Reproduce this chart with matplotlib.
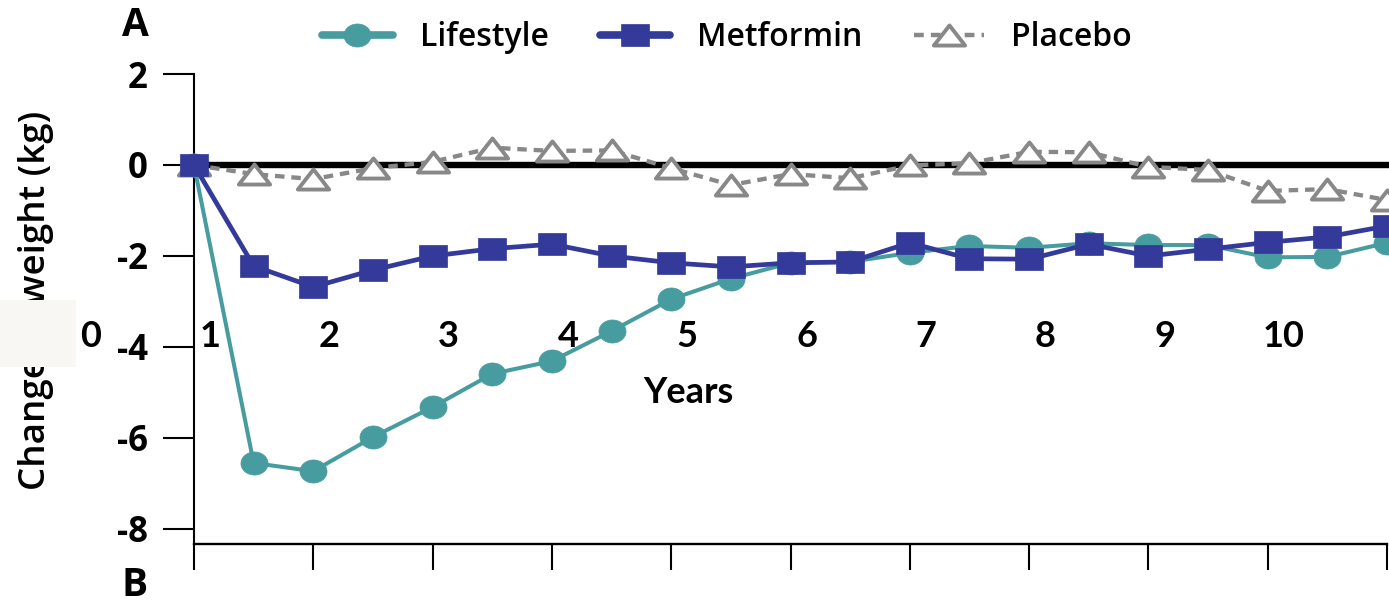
import numpy as np
import matplotlib
matplotlib.use("Agg")
import matplotlib.pyplot as plt
from matplotlib.path import Path
from matplotlib.patches import Rectangle

# Follow-up visits every half year
years = [0, 0.5, 1, 1.5, 2, 2.5, 3, 3.5, 4, 4.5, 5, 5.5, 6, 6.5, 7, 7.5, 8, 8.5, 9, 9.5, 10]

lifestyle = [0, -6.55, -6.73, -5.98, -5.32, -4.59, -4.31, -3.65, -2.95, -2.50, -2.15,
             -2.13, -1.93, -1.78, -1.82, -1.72, -1.76, -1.76, -2.03, -2.02, -1.71]
metformin = [0, -2.22, -2.68, -2.31, -2.00, -1.84, -1.74, -2.00, -2.15, -2.24, -2.15,
             -2.13, -1.71, -2.06, -2.07, -1.74, -2.00, -1.85, -1.70, -1.58, -1.34]
placebo = [0, -0.20, -0.31, -0.07, 0.07, 0.38, 0.31, 0.32, -0.07, -0.44, -0.20,
           -0.29, -0.01, 0.04, 0.29, 0.28, -0.04, -0.11, -0.57, -0.53, -0.77]

series_names = ["Lifestyle", "Metformin", "Placebo"]
year_labels = ["0", "1", "2", "3", "4", "5", "6", "7", "8", "9", "10"]
y_ticks = [2, 0, -2, -4, -6, -8]

W, H = 1389, 602
fig = plt.figure(figsize=(W / 100, H / 100), dpi=100)


def fx(px):
    return px / W


def fy(py):
    return 1 - py / H


ax = fig.add_axes([fx(194), fy(544), fx(1387) - fx(194), fy(74) - fy(544)])
ax.set_xlim(0, 10)
ax.set_ylim(-8.33, 2)

# slightly widened marker shapes
def ellipse(w, h, n=64):
    t = np.linspace(0, 2 * np.pi, n)
    return Path(np.column_stack([w * np.cos(t), h * np.sin(t)]), closed=True)


def rect(w, h):
    return Path([(-w, -h), (w, -h), (w, h), (-w, h), (-w, -h)], closed=True)


def tri(w, h):
    return Path([(-w, -h), (w, -h), (0, h), (-w, -h)], closed=True)


teal = "#479ca0"
navy = "#343a99"
grey = "#888888"

ax.axhline(0, color="black", lw=4.6, zorder=1, clip_on=False)

ax.plot(years, placebo, color=grey, lw=3.1, dashes=(2.2, 1.6), dash_capstyle="butt",
        marker=tri(28, 18), ms=22.5, mfc="white", mec=grey, mew=2.8,
        zorder=3, clip_on=False, label=series_names[2])
ax.plot(years, lifestyle, color=teal, lw=2.9,
        marker=ellipse(27, 23), ms=19.5, mfc=teal, mec=teal, mew=0.5,
        zorder=4, clip_on=False, label=series_names[0])
ax.plot(years, metformin, color=navy, lw=3.4,
        marker=rect(28, 22), ms=20, mfc=navy, mec=navy, mew=0.5,
        zorder=5, clip_on=False, label=series_names[1])

# axes styling
for side in ("top", "right"):
    ax.spines[side].set_visible(False)
ax.spines["left"].set_linewidth(1.5)
ax.spines["bottom"].set_linewidth(1.7)
ax.set_xticks(range(11))
ax.set_xticklabels([])
ax.tick_params(axis="x", direction="out", length=18.7, width=1.5)
ax.set_yticks(y_ticks)
ax.set_yticklabels([str(v) for v in y_ticks])
ax.tick_params(axis="y", direction="out", length=22.3, width=1.5, pad=11)
for lab in ax.get_yticklabels():
    lab.set_fontfamily("Open Sans")
    lab.set_fontweight("bold")
    lab.set_fontsize(25)

# year labels along the middle of the panel
label_shift = -0.865
for k, lab in enumerate(year_labels):
    ax.text(k + label_shift, -3.76, lab, ha="center", va="center",
            fontsize=26, fontweight="bold", family="Lato", clip_on=False, zorder=6)
ax.text(4.14, -5.01, "Years", ha="center", va="center",
        fontsize=26, fontweight="bold", family="Lato", zorder=6)

# y axis title
fig.text(fx(36), fy(300), "Change in weight (kg)", rotation=90, ha="center", va="center",
         fontsize=26.5, family="Open Sans", fontweight="semibold")
fig.patches.append(Rectangle((0, fy(367)), fx(76), fy(300) - fy(367),
                             transform=fig.transFigure, facecolor="#f9f7f3",
                             edgecolor="none", zorder=10))

# panel letters
fig.text(fx(135), fy(25), "A", ha="center", va="center", fontsize=28,
         fontweight="bold", family="Open Sans")
fig.text(fx(135), fy(585), "B", ha="center", va="center", fontsize=28,
         fontweight="bold", family="Open Sans")

handles, labels = ax.get_legend_handles_labels()
order = [labels.index(n) for n in series_names]
leg = fig.legend([handles[i] for i in order], [labels[i] for i in order],
                 loc="center", bbox_to_anchor=(fx(727), fy(38)), ncol=3, frameon=False,
                 prop={"family": "Open Sans", "weight": "semibold", "size": 23},
                 handlelength=2.2, handletextpad=0.85, columnspacing=1.6,
                 borderpad=0, borderaxespad=0)
# heavier, rounded legend strokes
for h in leg.legend_handles[:2]:
    h.set_linewidth(5.5)
    h.set_solid_capstyle("round")
leg.legend_handles[2].set_linewidth(3.2)

fig.savefig("out.png", dpi=100)
